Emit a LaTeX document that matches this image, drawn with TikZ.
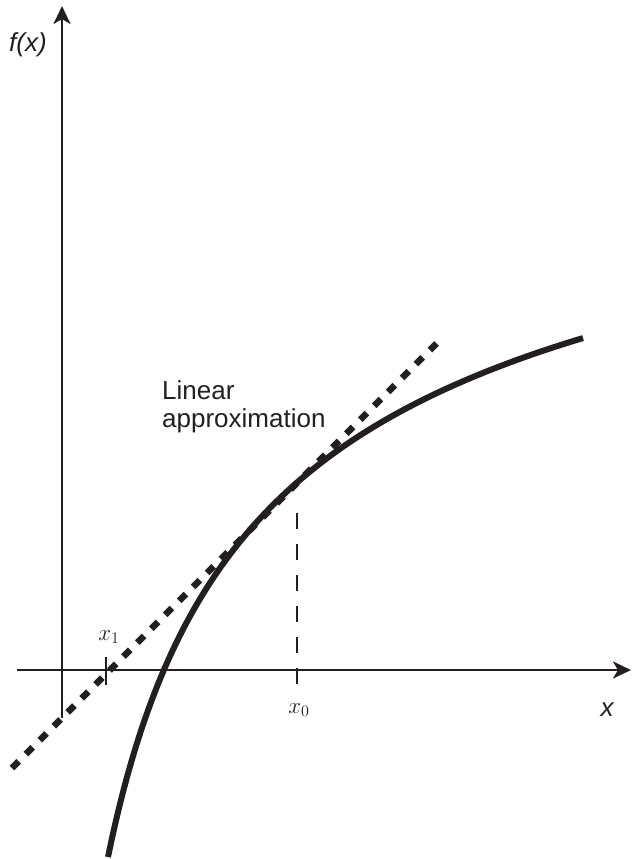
\RequirePackage{fix-cm}
\documentclass[tikz,border=0pt]{standalone}
\usepackage{fontspec}
\newfontfamily\lsans{Liberation Sans}
\usetikzlibrary{arrows.meta}
\definecolor{ink}{RGB}{35,31,32}
\tikzset{
  axis/.style={draw=ink, line width=2.7pt, -{Stealth[length=18pt,width=17pt,inset=5pt]}},
  tick/.style={draw=ink, line width=2.7pt},
  curve/.style={draw=ink, line width=6pt},
  tangent/.style={draw=ink, line width=6.5pt, dash pattern=on 9.5pt off 10.2pt},
  guide/.style={draw=ink, line width=2.7pt, dash pattern=on 16pt off 15pt},
  sanslabel/.style={text=ink, font=\lsans\fontsize{26}{28}\selectfont, inner sep=0pt},
  mathlabel/.style={text=ink, font=\fontsize{23}{27}\selectfont, inner sep=0pt}
}
\begin{document}
\begin{tikzpicture}[x=1pt,y=-1pt]
\useasboundingbox (0,0) rectangle (632,859);
% axes
\coordinate (xs) at (17,670);
\coordinate (xe) at (631,670);
\coordinate (ys) at (62,718);
\coordinate (ye) at (62,6);
\draw[axis] (xs) -- (xe);
\draw[axis] (ys) -- (ye);
% x1 tick
\coordinate (t1a) at (106,657);
\coordinate (t1b) at (106,685);
\draw[tick] (t1a) -- (t1b);
% x0 dashed guide
\coordinate (g0a) at (297,684);
\coordinate (g0b) at (297,500);
\draw[guide] (g0a) -- (g0b);
% tangent (linear approximation)
\coordinate (la) at (12,768);
\coordinate (lb) at (437,343);
\draw[tangent] (la) -- (lb);
% curve
\draw[curve] plot[domain=108:583, samples=120, smooth] (\x, {-1.3+8052/sqrt(\x-20)});
% labels
\node[sanslabel, anchor=base] (fx) at (28,52) {\itshape f(x)};
\node[sanslabel, anchor=base] (xl) at (607,716) {\itshape x};
\node[sanslabel, anchor=base west, align=left] (lin) at (162,427) {Linear\\approximation};
\node[mathlabel, anchor=base] (x1) at (109,640) {$x_1$};
\node[mathlabel, anchor=base] (x0) at (299,713) {$x_0$};
\end{tikzpicture}
\end{document}
